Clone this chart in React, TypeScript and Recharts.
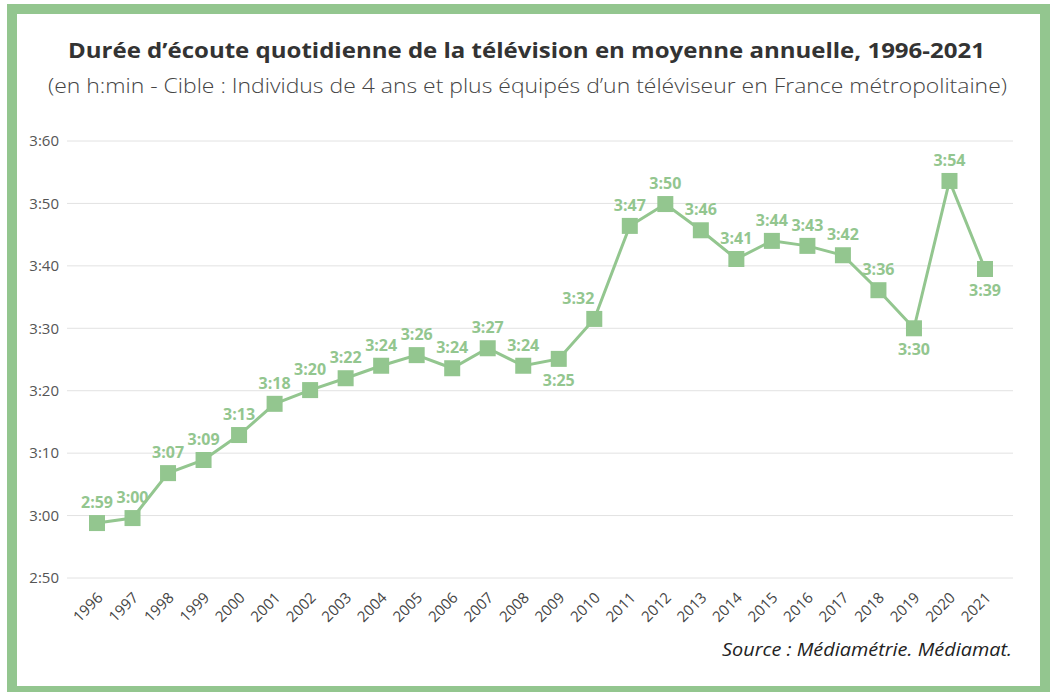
import { LineChart, Line, XAxis, YAxis, CartesianGrid, LabelList } from "recharts";

const years = [
  "1996", "1997", "1998", "1999", "2000", "2001", "2002", "2003", "2004", "2005", "2006", "2007", "2008",
  "2009", "2010", "2011", "2012", "2013", "2014", "2015", "2016", "2017", "2018", "2019", "2020", "2021",
];
// daily viewing time in minutes
const minutes = [
  178.8, 179.6, 186.8, 188.9, 192.9, 197.9, 200.1, 202, 204, 205.7, 203.6, 206.8, 204,
  205.1, 211.5, 226.4, 229.9, 225.7, 221.1, 224, 223.2, 221.7, 216.1, 210, 233.6, 219.5,
];
const valueLabels = [
  "2:59", "3:00", "3:07", "3:09", "3:13", "3:18", "3:20", "3:22", "3:24", "3:26", "3:24", "3:27", "3:24",
  "3:25", "3:32", "3:47", "3:50", "3:46", "3:41", "3:44", "3:43", "3:42", "3:36", "3:30", "3:54", "3:39",
];
const labelsBelow = ["2009", "2019", "2021"];
const labelsLeft = ["2010"];
const yTicks = [170, 180, 190, 200, 210, 220, 230, 240];
const yTickLabels = ["2:50", "3:00", "3:10", "3:20", "3:30", "3:40", "3:50", "3:60"];

const data = years.map((y, i) => ({ year: y, value: minutes[i], label: valueLabels[i] }));

const GREEN = "#93c68f";
const FONT = "'Open Sans', 'Noto Sans', sans-serif";

const SquareDot = (props: any) => {
  const { cx, cy, index } = props;
  if (cx == null || cy == null) return null;
  return <rect key={index} x={cx - 8} y={cy - 8} width={16} height={16} fill={GREEN} />;
};

const XTick = (props: any) => {
  const { x, y, payload } = props;
  return (
    <text
      transform={`translate(${x + 3},${y + 9}) rotate(-45)`}
      textAnchor="end"
      dy="0.35em"
      fontSize={15}
      fill="#444"
      fontFamily={FONT}
    >
      {payload.value}
    </text>
  );
};

const ValueLabel = (props: any) => {
  const { x, y, index } = props;
  const below = labelsBelow.includes(years[index]);
  const left = labelsLeft.includes(years[index]);
  return (
    <text
      x={left ? x - 16 : x}
      y={below ? y + 27 : y - 15}
      textAnchor="middle"
      fontSize={16}
      fontWeight={700}
      fill={GREEN}
      fontFamily={FONT}
    >
      {valueLabels[index]}
    </text>
  );
};

export default function App() {
  return (
    <div style={{ position: "absolute", left: 0, top: 0, width: 1050, height: 692, overflow: "hidden", background: "#fff" }}>
      <div
        style={{
          position: "absolute",
          left: 7,
          top: 4,
          width: 1043,
          height: 692,
          boxSizing: "border-box",
          border: `10px solid ${GREEN}`,
        }}
      />
      <svg width={1050} height={692} style={{ position: "absolute", left: 0, top: 0 }}>
        <text x={68} y={58} fontSize={22} fontWeight={700} fill="#333" fontFamily={FONT} textLength={917} lengthAdjust="spacingAndGlyphs">
          Durée d’écoute quotidienne de la télévision en moyenne annuelle, 1996-2021
        </text>
        <text x={48} y={93} fontSize={20} fontWeight={300} fill="#444" fontFamily={FONT} textLength={959} lengthAdjust="spacingAndGlyphs">
          (en h:min - Cible : Individus de 4 ans et plus équipés d’un téléviseur en France métropolitaine)
        </text>
        <text x={722} y={656} fontSize={18} fontStyle="italic" fill="#222" fontFamily={FONT} textLength={290} lengthAdjust="spacingAndGlyphs">
          Source : Médiamétrie. Médiamat.
        </text>
      </svg>
      <div style={{ position: "absolute", left: 0, top: 0 }}>
        <LineChart width={1050} height={692} data={data} margin={{ top: 141, right: 37, bottom: 0, left: 0 }}>
          <CartesianGrid vertical={false} stroke="#e2e2e2" strokeWidth={1} />
          <XAxis
            dataKey="year"
            axisLine={false}
            tickLine={false}
            interval={0}
            padding={{ left: 30, right: 28 }}
            tick={<XTick />}
            height={114}
          />
          <YAxis
            domain={[170, 240]}
            ticks={yTicks}
            width={67}
            axisLine={false}
            tickLine={false}
            tick={{ fontSize: 15, fill: "#555", fontFamily: FONT }}
            tickFormatter={(v: number) => yTickLabels[yTicks.indexOf(v)]}
          />
          <Line
            type="linear"
            dataKey="value"
            stroke={GREEN}
            strokeWidth={3}
            dot={<SquareDot />}
            activeDot={false}
            isAnimationActive={false}
          >
            <LabelList dataKey="label" content={<ValueLabel />} />
          </Line>
        </LineChart>
      </div>
    </div>
  );
}
